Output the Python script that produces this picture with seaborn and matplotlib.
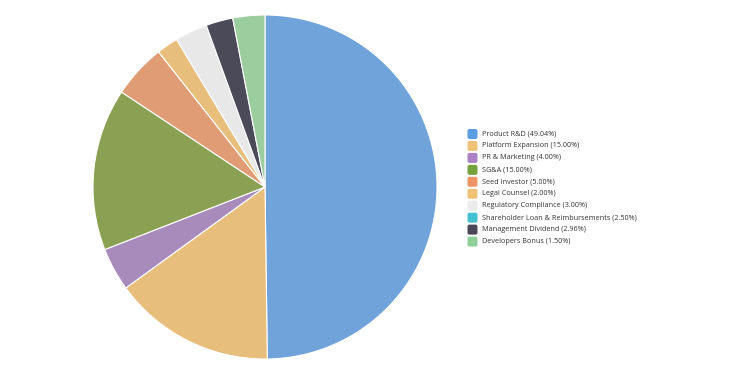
import matplotlib
matplotlib.use("Agg")
import matplotlib.pyplot as plt
import seaborn as sns
from matplotlib.patches import FancyBboxPatch

# Legend entries
labels = ["Product R&D", "Platform Expansion", "PR & Marketing", "SG&A",
          "Seed Investor", "Legal Counsel", "Regulatory Compliance",
          "Shareholder Loan & Reimbursements", "Management Dividend",
          "Developers Bonus"]
shares = [49.04, 15.00, 4.00, 15.00, 5.00, 2.00, 3.00, 2.50, 2.96, 1.50]
colors = ["#5b9de0", "#f0c278", "#ab82c5", "#78a23c", "#ee9466",
          "#f0c278", "#ebebeb", "#45c0d0", "#4a4858", "#8ed09a"]

# Slices as drawn in the original (9 slices, last two coloured dark / green)
slice_values = [49.04, 15.00, 4.00, 15.00, 5.00, 2.00, 3.00, 2.50, 2.96]
slice_colors = ["#71a3db", "#e8be7d", "#a88bbb", "#8aa052", "#e09c74",
                "#e8be7d", "#e8e8e8", "#4b4a58", "#9ccd9f"]

sns.set_style("white")
plt.rcParams["font.family"] = ["Open Sans", "DejaVu Sans"]

W, H = 731, 386
fig = plt.figure(figsize=(W / 100, H / 100), dpi=100)

# pie
cx, cy, r = 265, 187, 172
ax = fig.add_axes([(cx - r) / W, (H - cy - r) / H, 2 * r / W, 2 * r / H])
ax.pie(slice_values, colors=slice_colors, startangle=90, counterclock=False,
       radius=1, wedgeprops=dict(edgecolor="white", linewidth=0.8))
ax.set_xlim(-1, 1)
ax.set_ylim(-1, 1)
ax.set_aspect("equal")
ax.axis("off")

# legend, drawn row by row in pixel space
lax = fig.add_axes([0, 0, 1, 1])
lax.set_xlim(0, W)
lax.set_ylim(H, 0)
lax.axis("off")
y0, step, sw = 134, 11.95, 10
for i, (lab, val, col) in enumerate(zip(labels, shares, colors)):
    y = y0 + step * i
    lax.add_patch(FancyBboxPatch((467.5, y - sw / 2), sw, sw,
                                 boxstyle="round,pad=0,rounding_size=2",
                                 facecolor=col, edgecolor="none"))
    lax.text(482, y, f"{lab} ({val:.2f}%)", fontsize=5.2, color="#333333",
             ha="left", va="center")

fig.savefig("out.png", dpi=100)
